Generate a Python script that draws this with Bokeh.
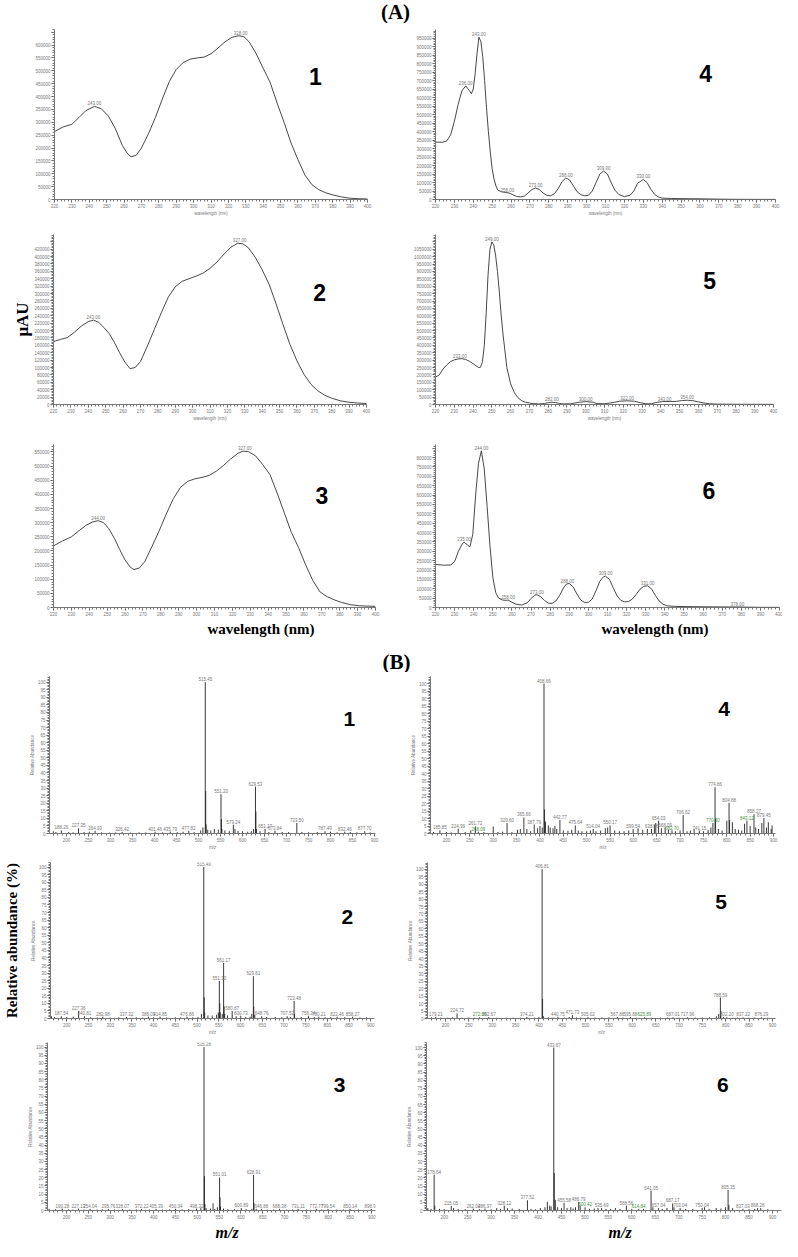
import math
from bokeh.plotting import figure
from bokeh.layouts import column, row
from bokeh.models import (Range1d, Label, SingleIntervalTicker, NumeralTickFormatter, LinearAxis,
                          FixedTicker, Title)
from bokeh.core.properties import value
from bokeh.embed import file_html
from bokeh.resources import INLINE

# ---------------- data: UV spectra (wavelength nm, absorbance uAU) ----------------
A1_wl = [220, 225, 230, 234, 238, 243, 247, 251, 255, 259, 262, 264, 267, 270, 274, 278, 282, 286, 290, 294,
         298, 302, 306, 310, 314, 318, 322, 326, 329, 332, 336, 340, 344, 348, 352, 356, 360, 364, 368, 372,
         376, 380, 385, 390, 395, 400]
A1_au = [264000, 282000, 292000, 318000, 345000, 362000, 352000, 324000, 275000, 210000, 178000, 166000, 172000,
         200000, 255000, 318000, 390000, 458000, 505000, 532000, 545000, 550000, 553000, 566000, 588000, 612000,
         630000, 636000, 632000, 612000, 566000, 510000, 455000, 375000, 300000, 220000, 155000, 95000, 58000,
         38000, 26000, 18000, 10000, 5000, 3000, 2000]
A1_pk_wl = [243, 327]
A1_pk_au = [362000, 636000]
A1_pk_txt = ["243.00", "328.00"]

A2_wl = [220, 224, 228, 232, 236, 240, 243, 246, 249, 252, 255, 258, 261, 264, 267, 270, 274, 278, 282, 286,
         290, 294, 298, 302, 306, 310, 314, 318, 322, 326, 329, 332, 336, 340, 344, 348, 352, 356, 360, 364,
         368, 372, 376, 380, 385, 390, 395, 400]
A2_au = [170000, 176000, 181000, 195000, 212000, 224000, 228000, 222000, 208000, 192000, 168000, 140000, 115000,
         97000, 100000, 116000, 158000, 203000, 248000, 290000, 318000, 333000, 340000, 347000, 355000, 368000,
         385000, 406000, 425000, 436000, 434000, 424000, 398000, 364000, 325000, 272000, 216000, 162000, 118000,
         82000, 55000, 37000, 25000, 17000, 10000, 6000, 4000, 2500]
A2_pk_wl = [243, 327]
A2_pk_au = [228000, 436000]
A2_pk_txt = ["243.00", "327.00"]

A3_wl = [220, 225, 230, 234, 238, 242, 245, 248, 251, 254, 257, 260, 263, 265, 268, 271, 275, 279, 283, 287,
         291, 295, 299, 303, 307, 311, 315, 319, 323, 326, 329, 333, 337, 341, 345, 349, 353, 357, 361, 365,
         369, 373, 377, 381, 386, 391, 400]
A3_au = [218000, 235000, 250000, 270000, 290000, 303000, 307000, 300000, 278000, 245000, 205000, 168000, 142000,
         134000, 140000, 162000, 215000, 270000, 330000, 385000, 425000, 446000, 455000, 460000, 467000, 482000,
         502000, 525000, 545000, 553000, 551000, 536000, 505000, 470000, 405000, 335000, 265000, 212000, 150000,
         95000, 55000, 38000, 27000, 18000, 10000, 6000, 4000]
A3_pk_wl = [245, 327]
A3_pk_au = [307000, 553000]
A3_pk_txt = ["244.00", "327.00"]

A4_wl = [220, 224, 226, 228, 230, 232, 234, 236, 238, 239, 240, 241, 242, 243, 244, 245, 246, 247, 248, 249,
         250, 251, 252, 253, 255, 257, 259, 261, 263, 265, 267, 269, 271, 273, 275, 277, 279, 281, 283, 285,
         287, 289, 291, 293, 295, 297, 299, 301, 303, 305, 307, 309, 311, 313, 315, 317, 320, 323, 325, 327,
         330, 332, 334, 336, 338, 340, 345, 350, 360, 370, 380, 400]
A4_au = [337000, 337000, 345000, 380000, 460000, 560000, 640000, 668000, 640000, 622000, 650000, 740000, 860000,
         955000, 930000, 840000, 700000, 540000, 400000, 280000, 180000, 120000, 80000, 55000, 45000, 42000,
         38000, 28000, 18000, 15000, 20000, 38000, 58000, 68000, 58000, 38000, 24000, 22000, 35000, 65000,
         105000, 127000, 115000, 80000, 45000, 28000, 22000, 25000, 50000, 100000, 150000, 168000, 150000,
         100000, 55000, 30000, 17000, 25000, 50000, 95000, 118000, 100000, 60000, 30000, 15000, 8000, 6000,
         5000, 4000, 2000, 1000, 500]
A4_pk_wl = [236, 243, 258, 273, 289, 309, 330]
A4_pk_au = [668000, 955000, 40000, 68000, 127000, 168000, 118000]
A4_pk_txt = ["236.00", "243.00", "258.00", "273.00", "288.00", "309.00", "330.00"]

A5_wl = [220, 222, 224, 226, 228, 230, 232, 234, 236, 238, 240, 242, 243, 244, 245, 246, 247, 248, 249, 250,
         251, 252, 253, 254, 255, 256, 258, 260, 262, 264, 266, 268, 270, 272, 275, 278, 280, 282, 284, 286,
         288, 292, 296, 300, 304, 306, 310, 314, 318, 322, 326, 329, 332, 335, 338, 341, 345, 348, 351, 354,
         357, 360, 363, 366, 370, 380, 400]
A5_au = [185000, 200000, 240000, 268000, 290000, 302000, 308000, 310000, 305000, 293000, 276000, 258000, 250000,
         252000, 290000, 400000, 620000, 880000, 1050000, 1100000, 1080000, 1010000, 900000, 760000, 600000,
         470000, 250000, 140000, 80000, 45000, 25000, 15000, 10000, 6000, 4000, 6000, 12000, 15000, 13000, 7000,
         4000, 5000, 14000, 20000, 15000, 6000, 5000, 12000, 22000, 25000, 22000, 12000, 5000, 5000, 15000,
         20000, 20000, 21000, 26000, 29000, 26000, 18000, 10000, 5000, 2500, 1500, 1000]
A5_pk_wl = [233, 250, 282, 300, 322, 342, 354]
A5_pk_au = [310000, 1100000, 15000, 20000, 25000, 20000, 29000]
A5_pk_txt = ["233.00", "249.00", "282.00", "300.00", "322.00", "343.00", "354.00"]

A6_wl = [220, 224, 228, 230, 232, 234, 235, 236.5, 238, 239.5, 241, 242.5, 244, 245.5, 247, 248.5, 250, 251.5,
         253, 255, 257, 258, 260, 262, 265, 268, 270, 272, 273, 275, 277, 279, 281, 283, 285, 287, 288.5, 290,
         292, 294, 296, 298, 300, 302, 304, 306, 308, 309, 311, 313, 315, 317, 319, 321, 323, 325, 327, 329,
         331, 333, 335, 337, 339, 341, 345, 350, 355, 360, 365, 370, 375, 378, 382, 390, 400]
A6_au = [230000, 226000, 227000, 245000, 300000, 340000, 348000, 336000, 323000, 390000, 600000, 770000, 836000,
         740000, 540000, 330000, 160000, 80000, 50000, 40000, 38000, 40000, 28000, 18000, 13000, 25000, 48000,
         66000, 68600, 58000, 38000, 23000, 22000, 35000, 65000, 105000, 125000, 128000, 110000, 72000, 40000,
         27000, 28000, 45000, 90000, 140000, 165000, 167000, 150000, 105000, 62000, 38000, 30000, 32000, 45000,
         70000, 98000, 113000, 116000, 100000, 65000, 35000, 18000, 9000, 6000, 5000, 4500, 4000, 3500, 3000,
         3000, 3000, 2000, 1000, 800]
A6_pk_wl = [235, 244, 258, 273, 289, 309, 331, 378]
A6_pk_au = [348000, 836000, 40000, 68600, 128000, 167000, 116000, 3000]
A6_pk_txt = ["235.00", "244.00", "258.00", "273.00", "288.00", "309.00", "331.00", "378.00"]

# ---------------- data: mass spectra (m/z, relative abundance %) ----------------
B1_mz = [170, 176, 188.26, 205, 215, 227.35, 240, 252, 264.93, 280, 298, 312, 326.42, 345, 365, 380, 401.46, 418,
         435.79, 452, 465, 477.82, 490, 505, 510, 515.45, 516.45, 517.4, 521, 528, 536, 545, 551.20, 552.2, 553.2,
         560, 570, 579.24, 583, 590, 600, 612, 620, 625, 629.53, 630.5, 632, 640, 651.27, 660, 673.84, 690, 705,
         723.50, 735, 750, 770, 787.49, 800, 815, 832.46, 845, 860, 877.70, 890]
B1_ab = [1.5, 1.0, 2.0, 1.0, 0.8, 3.4, 1.0, 1.2, 1.8, 0.8, 0.6, 0.7, 1.0, 0.6, 0.8, 0.7, 1.2, 0.8,
         1.3, 0.9, 1.2, 1.8, 0.9, 2.0, 4.0, 100, 28, 6, 2.5, 2.0, 3.0, 2.5, 26, 9.5, 3,
         2, 1.5, 5.8, 3, 1.8, 1.5, 1.2, 1.5, 3, 31, 14.5, 3, 1.5, 3.0, 1.0, 1.8, 1.0, 1.0,
         7.0, 1.0, 0.8, 1.0, 1.5, 1.2, 0.8, 1.2, 1.0, 0.8, 1.5, 0.8]
B1_labels = ["188.26", "227.35", "264.93", "326.42", "401.46", "435.79", "477.82", "515.45", "551.20", "579.24",
             "629.53", "651.27", "673.84", "723.50", "787.49", "832.46", "877.70"]

B2_mz = [165, 172, 187.54, 200, 215, 227.36, 240.81, 255, 270, 282.98, 300, 320, 337.32, 360, 375, 388.03, 400,
         414.85, 430, 450, 462, 476.86, 490, 502, 510, 515.49, 516.5, 517.5, 525, 535, 545, 549, 551.30, 552.3,
         553.3, 558, 561.17, 562.2, 563.5, 570, 580.87, 590, 600.73, 612, 622, 626, 629.61, 630.6, 633, 648.76,
         660, 680, 695, 707.52, 715, 723.48, 724.5, 740, 756.34, 770, 780.21, 795, 808, 822.46, 840, 858.27, 875, 890]
B2_ab = [1.5, 1.0, 1.5, 1.0, 1.2, 5.0, 1.5, 0.8, 0.7, 1.2, 0.6, 0.8, 1.0, 0.7, 0.6, 1.2, 0.8,
         1.2, 0.7, 0.8, 0.7, 1.2, 0.8, 1.0, 3.0, 100, 14, 4, 2, 2.0, 2.5, 4.0, 24.8, 10,
         4, 3, 36.6, 8, 3, 2.0, 5.0, 1.5, 1.8, 1.0, 1.2, 3, 28, 8, 2.5, 1.5,
         1.0, 1.0, 0.8, 1.5, 1.0, 11.6, 3, 1.0, 1.8, 1.0, 1.2, 0.8, 0.8, 1.2, 0.8, 1.2, 0.7, 0.8]
B2_labels = ["187.54", "227.36", "240.81", "282.98", "337.32", "388.03", "414.85", "476.86", "515.49", "551.30",
             "561.17", "580.87", "600.73", "629.61", "648.76", "707.52", "723.48", "756.34", "780.21", "822.46",
             "858.27"]

B3_mz = [160, 175, 190.28, 205, 215, 227.13, 240, 254.04, 270, 282, 295.76, 310, 328.07, 345, 360, 372.22, 390,
         405.39, 420, 436, 450.04, 465, 480, 498.32, 508, 515.28, 516.3, 517.3, 520, 530, 536, 540, 546, 551.01,
         552.0, 553, 560, 570, 585, 600.89, 612, 625, 628.91, 629.9, 635, 646.88, 660, 675, 688.38, 705, 718,
         731.11, 750, 772.77, 785, 799.54, 820, 835, 850.14, 870, 898.91]
B3_ab = [1.0, 0.8, 1.2, 0.7, 0.6, 1.2, 0.6, 1.0, 0.6, 0.7, 1.0, 0.6, 1.0, 0.6, 0.7, 1.0, 0.6,
         1.0, 0.6, 0.7, 1.0, 0.6, 0.8, 1.2, 1.5, 100, 21, 4, 1.5, 1.2, 4.4, 1.0, 2.0, 20.2,
         8, 2.5, 1.2, 0.8, 0.8, 1.5, 0.8, 1.0, 21.8, 4.5, 1.0, 1.0, 0.6, 0.6, 1.0, 0.5, 0.6,
         1.0, 0.6, 1.0, 0.6, 1.0, 0.6, 0.6, 1.0, 0.6, 1.0]
B3_labels = ["190.28", "227.13", "254.04", "295.76", "328.07", "372.22", "405.39", "450.04", "498.32", "515.28",
             "551.01", "600.89", "628.91", "646.88", "688.38", "731.11", "772.77", "799.54", "850.14", "898.91"]

B4_mz = [172, 185.85, 200, 210, 224.99, 240, 252, 261.72, 268.09, 280, 300, 310, 320, 329.60, 340, 352, 358,
         365.66, 372, 380, 387.79, 395, 400, 405, 408.66, 409.7, 412, 418, 422, 428, 432, 436, 442.77, 450, 460,
         468, 475.64, 482, 490, 500, 508, 514.04, 520, 530, 540, 545, 550.17, 560, 570, 580, 590, 599.54, 610,
         620, 630, 638.86, 645, 648, 654.03, 660, 668.09, 675, 682.70, 690, 700, 706.62, 715, 722, 730, 741.15,
         750, 760, 766, 770.30, 774.86, 776, 782, 790, 800, 804.88, 806, 812, 818, 825, 832, 838, 843.12, 850,
         858.27, 862, 868, 875, 879.45, 885, 889, 895, 897]
B4_ab = [1.0, 2.1, 1.0, 0.8, 3.2, 1.0, 2.0, 4.7, 1.2, 1.0, 4.7, 1.0, 1.2, 6.9, 1.0, 2.5, 3.0,
         10.7, 3.0, 1.5, 6.0, 3.5, 5.0, 4.0, 100, 16, 8.0, 5.4, 4.0, 3.5, 5.0, 3.0, 9.0, 2.0, 1.8,
         2.5, 5.4, 2.0, 1.5, 1.5, 2.0, 3.0, 1.5, 2.0, 3.5, 4.0, 5.4, 2.0, 1.5, 1.5, 2.0, 3.0, 3.5,
         2.5, 3.0, 3.0, 6.0, 7.0, 8.6, 3.5, 4.0, 2.5, 2.0, 1.5, 2.0, 12.2, 1.5, 2.0, 3.0, 2.0,
         1.5, 2.5, 4.0, 7.0, 30.8, 10, 3.0, 2.0, 8.6, 20.5, 9.0, 7.5, 3.0, 2.5, 2.0, 6.5, 8.6, 5.0,
         12.8, 4.0, 3.0, 7.0, 10.3, 4.0, 7.5, 3.0, 5.4]
B4_labels = ["185.85", "224.99", "261.72", "268.09", "329.60", "365.66", "387.79", "408.66", "442.77", "475.64",
             "514.04", "550.17", "599.54", "638.86", "654.03", "668.09", "682.70", "706.62", "741.15", "770.30",
             "774.86", "804.88", "843.12", "858.27", "879.45"]
B4_green = ["268.09", "682.70", "770.30", "843.12"]

B5_mz = [170, 179.21, 190, 205, 215, 224.72, 235, 250, 262, 272.86, 292.67, 310, 330, 345, 360, 374.21, 390, 400,
         406.81, 407.8, 410, 420, 430, 440.75, 455, 465, 471.73, 480, 490, 505.02, 520, 535, 550, 567.86, 580,
         595.88, 610, 625.89, 640, 660, 675, 687.01, 700, 717.96, 735, 750, 765, 780, 785, 788.59, 789.6, 795,
         802.20, 815, 825, 837.22, 850, 862, 876.29, 890]
B5_ab = [0.8, 1.2, 0.6, 0.6, 0.8, 3.4, 0.6, 0.6, 0.5, 0.8, 1.0, 0.5, 0.5, 0.6, 0.5, 1.0, 0.6, 1.0,
         100, 13, 1.5, 0.8, 0.6, 1.2, 0.6, 1.0, 2.2, 0.8, 0.6, 1.0, 0.6, 0.6, 0.7, 1.0, 0.6,
         1.0, 0.5, 0.8, 0.5, 0.6, 0.5, 0.8, 0.5, 0.8, 0.6, 0.6, 0.8, 1.5, 3.0, 14, 5, 1.0,
         0.8, 0.5, 0.6, 0.8, 0.5, 0.6, 0.8, 0.5]
B5_labels = ["179.21", "224.72", "272.86", "292.67", "374.21", "406.81", "440.75", "471.73", "505.02", "567.86",
             "595.88", "625.89", "687.01", "717.96", "788.59", "802.20", "837.22", "876.29"]
B5_green = ["272.86", "625.89"]

B6_mz = [165, 172, 178.64, 180, 190, 200, 215.05, 220, 230, 245, 262.04, 275, 286.97, 300, 312, 320, 328.12, 335,
         345, 360, 377.52, 385, 395, 405, 415, 420, 425, 428, 433.67, 434.7, 437, 442, 450, 455.58, 462, 470, 475,
         480, 486.79, 490, 500.42, 510, 520, 528, 535.69, 545, 555, 565, 575, 588.56, 600, 614.84, 625, 641.05,
         645, 657.04, 665, 675, 687.17, 690, 703.04, 715, 730, 750.04, 755, 765, 780, 790, 800, 805.35, 807, 815,
         837.03, 850, 862, 868.28, 875, 890]
B6_ab = [1.5, 1.0, 22, 3.0, 1.0, 0.8, 2.8, 1.5, 0.8, 0.8, 1.2, 0.8, 1.2, 0.8, 1.5, 1.0, 3.0, 1.5,
         1.2, 1.0, 6.3, 1.0, 0.8, 1.5, 2.0, 5.3, 3.0, 2.5, 100, 23, 6.5, 2.0, 1.5, 4.7, 1.5, 2.0, 1.2,
         2.0, 5.3, 3.0, 2.0, 1.0, 1.2, 1.5, 1.5, 1.0, 1.0, 1.5, 1.0, 3.0, 1.0, 1.0, 1.0, 12.2,
         2.0, 1.5, 1.0, 1.5, 4.3, 2.0, 1.5, 1.0, 1.0, 1.5, 2.0, 1.0, 1.5, 1.2, 2.0, 12.6, 3.5, 1.5,
         1.0, 0.8, 1.0, 1.5, 1.5, 0.8]
B6_labels = ["178.64", "215.05", "262.04", "286.97", "328.12", "377.52", "433.67", "455.58", "486.79", "500.42",
             "535.69", "588.56", "614.84", "641.05", "657.04", "687.17", "703.04", "750.04", "805.35", "837.03",
             "868.28"]
B6_green = ["500.42", "614.84"]

# ---------------- styling helpers ----------------
SANS = "Liberation Sans"
SERIF = "Liberation Serif"
AXC = "#555555"
TXC = "#777777"
GREEN = "#3f8f3f"


def make_fig(cell, frame, xlo, xppu, yppu):
    cx0, cy0, cx1, cy1 = cell
    fx0, fy0, fx1, fy1 = frame
    p = figure(width=cx1 - cx0, height=cy1 - cy0,
               x_range=Range1d(xlo, xlo + (fx1 - fx0) / xppu),
               y_range=Range1d(0, (fy1 - fy0) / yppu),
               min_border_left=fx0 - cx0, min_border_right=cx1 - fx1,
               min_border_top=fy0 - cy0, min_border_bottom=cy1 - fy1,
               output_backend="svg", toolbar_location=None, tools="")
    p.outline_line_color = None
    p.xgrid.visible = False
    p.ygrid.visible = False
    p.background_fill_color = "white"
    p.border_fill_color = "white"
    for ax in list(p.xaxis) + list(p.yaxis):
        ax.axis_line_color = AXC
        ax.axis_line_width = 0.8
        ax.major_tick_line_color = AXC
        ax.minor_tick_line_color = "#777777"
        ax.major_tick_in = 0
        ax.major_tick_out = 3
        ax.minor_tick_in = 0
        ax.minor_tick_out = 2
        ax.major_label_text_font = SANS
        ax.major_label_text_font_size = "4.5px"
        ax.major_label_text_color = TXC
        ax.major_label_standoff = 1
        ax.axis_label_text_font = SANS
        ax.axis_label_text_font_size = "4.5px"
        ax.axis_label_text_font_style = "normal"
        ax.axis_label_text_color = TXC
        ax.axis_label_standoff = 0
    return p


def side_label(p, text, size, standoff, style="bold"):
    # an extra tick-less axis on the left that only carries a large label
    ax = LinearAxis(ticker=FixedTicker(ticks=[]), axis_label=text, axis_line_color=None,
                    major_tick_line_color=None, minor_tick_line_color=None,
                    axis_label_text_font=SERIF, axis_label_text_font_style=style,
                    axis_label_text_font_size=size, axis_label_text_color="black",
                    axis_label_standoff=standoff)
    p.add_layout(ax, "left")


def bottom_title(p, text, size, offset, style="bold"):
    p.add_layout(Title(text=text, align="left", offset=offset, standoff=0, text_font=SERIF,
                       text_font_style=style, text_font_size=size, text_color="black"), "below")


def uv_panel(cell, frame, xppu, yppu, yint, wl, au, pk_wl, pk_au, pk_txt, overrides, small_xlabel, num, num_xy):
    p = make_fig(cell, frame, 220, xppu, yppu)
    p.xaxis.ticker = SingleIntervalTicker(interval=10, num_minor_ticks=5)
    p.yaxis.ticker = SingleIntervalTicker(interval=yint, num_minor_ticks=5)
    p.yaxis.formatter = NumeralTickFormatter(format="0")
    if overrides:
        p.yaxis.major_label_overrides = overrides
    if small_xlabel:
        p.xaxis.axis_label = "wavelength (nm)"
    p.line(wl, au, line_color="#333333", line_width=0.9)
    p.text(x=pk_wl, y=pk_au, text=pk_txt, text_font=value(SANS), text_font_size="4.5px",
           text_color=TXC, text_align="center", text_baseline="bottom", y_offset=-1)
    p.add_layout(Label(x=num_xy[0], y=num_xy[1], text=num, text_font=SANS, text_font_style="bold",
                       text_font_size="23px", text_color="black", text_align="center",
                       text_baseline="middle"))
    return p


def ms_panel(cell, frame, xlo, xppu, yppu, mz, ab, labels, green, small_xlabel, num, num_xy):
    p = make_fig(cell, frame, xlo, xppu, yppu)
    p.xaxis.ticker = SingleIntervalTicker(interval=50, num_minor_ticks=5)
    p.yaxis.ticker = SingleIntervalTicker(interval=5, num_minor_ticks=5)
    p.yaxis.axis_label = "Relative Abundance"
    if small_xlabel:
        p.xaxis.axis_label = "m/z"
    p.segment(x0=mz, y0=[0] * len(mz), x1=mz, y1=ab, line_color="#222222", line_width=0.9)
    lut = dict(zip(mz, ab))
    lx = [float(t) for t in labels]
    ly = [lut[float(t)] for t in labels]
    lc = [GREEN if t in green else TXC for t in labels]
    p.text(x=lx, y=ly, text=labels, text_font=value(SANS), text_font_size="4.5px",
           text_color=lc, text_align="center", text_baseline="bottom", y_offset=-1)
    p.add_layout(Label(x=num_xy[0], y=num_xy[1], text=num, text_font=SANS, text_font_style="bold",
                       text_font_size="21px", text_color="black", text_align="center",
                       text_baseline="middle"))
    return p


def header(h, text, px, py_top):
    p = figure(width=782, height=h, x_range=Range1d(0, 782), y_range=Range1d(0, h),
               x_axis_type=None, y_axis_type=None, min_border=0,
               output_backend="svg", toolbar_location=None, tools="")
    p.outline_line_color = None
    p.text(x=[px - 8], y=[h - py_top], text=[text], text_font=value(SERIF), text_font_style="bold",
           text_font_size="21px", text_align="center", text_baseline="middle", text_color="black")
    return p


# ---------------- panels ----------------
hdrA = header(23, "(A)", 403, 11)

pA1 = uv_panel((8, 31, 410, 226), (62, 37, 375, 210), 313 / 180, 13.1 / 50000, 50000,
               A1_wl, A1_au, A1_pk_wl, A1_pk_au, A1_pk_txt, {650000: ""}, True, "1", (370, 477000))
pA4 = uv_panel((410, 31, 790, 226), (443, 31, 783, 211), 340 / 180, 9.0 / 50000, 50000,
               A4_wl, A4_au, A4_pk_wl, A4_pk_au, A4_pk_txt, {1000000: ""}, True, "4", (363, 740000))
pA2 = uv_panel((8, 226, 410, 432), (61, 242, 374, 412), 313 / 180, 7.4 / 20000, 20000,
               A2_wl, A2_au, A2_pk_wl, A2_pk_au, A2_pk_txt, {440000: ""}, True, "2", (373, 303000))
side_label(pA2, "μAU", "17px", 0)
pA5 = uv_panel((410, 226, 790, 432), (443, 236, 781, 417), 338 / 180, 7.87 / 50000, 50000,
               A5_wl, A5_au, A5_pk_wl, A5_pk_au, A5_pk_txt, {1100000: "", 1150000: ""}, True, "5", (366, 839000))
pA3 = uv_panel((8, 432, 410, 646), (61, 452, 383, 618), 322 / 180, 14.4 / 50000, 50000,
               A3_wl, A3_au, A3_pk_wl, A3_pk_au, A3_pk_txt, None, False, "3", (370, 396000))
bottom_title(pA3, "wavelength (nm)", "15px", 154)
pA6 = uv_panel((410, 432, 790, 646), (443, 444, 787, 615), 344 / 180, 9.83 / 50000, 50000,
               A6_wl, A6_au, A6_pk_wl, A6_pk_au, A6_pk_txt, {850000: ""}, False, "6", (363, 625000))
bottom_title(pA6, "wavelength (nm)", "15px", 166)

hdrB = header(34, "(B)", 404, 23)

pB1 = ms_panel((8, 680, 410, 860), (57, 680, 383, 845), 161.4, 0.44, 1.59,
               B1_mz, B1_ab, B1_labels, [], True, "1", (843, 76))
pB4 = ms_panel((410, 680, 790, 860), (438, 684, 783, 847), 165.7, 0.4671, 1.557,
               B4_mz, B4_ab, B4_labels, B4_green, True, "4", (794, 83))
pB2 = ms_panel((8, 860, 410, 1045), (57, 860, 382, 1029), 162.6, 0.4357, 1.64,
               B2_mz, B2_ab, B2_labels, [], True, "2", (846, 67))
side_label(pB2, "Relative abundance (%)", "15px", 8)
pB5 = ms_panel((410, 860, 790, 1045), (435, 870, 783, 1026), 161.4, 0.467, 1.493,
               B5_mz, B5_ab, B5_labels, B5_green, True, "5", (790, 78))
pB3 = ms_panel((8, 1045, 410, 1248), (55, 1050, 383, 1223), 156.4, 0.4361, 1.683,
               B3_mz, B3_ab, B3_labels, [], False, "3", (826, 77))
bottom_title(pB3, "m/z", "16px", 168, style="bold italic")
pB6 = ms_panel((410, 1045, 790, 1248), (434, 1049, 789, 1224), 162.3, 0.469, 1.697,
               B6_mz, B6_ab, B6_labels, B6_green, False, "6", (794, 77))
bottom_title(pB6, "m/z", "16px", 182, style="bold italic")

layout = column(hdrA, row(pA1, pA4), row(pA2, pA5), row(pA3, pA6),
                hdrB, row(pB1, pB4), row(pB2, pB5), row(pB3, pB6))

open("out.html", "w").write(file_html(layout, INLINE))
